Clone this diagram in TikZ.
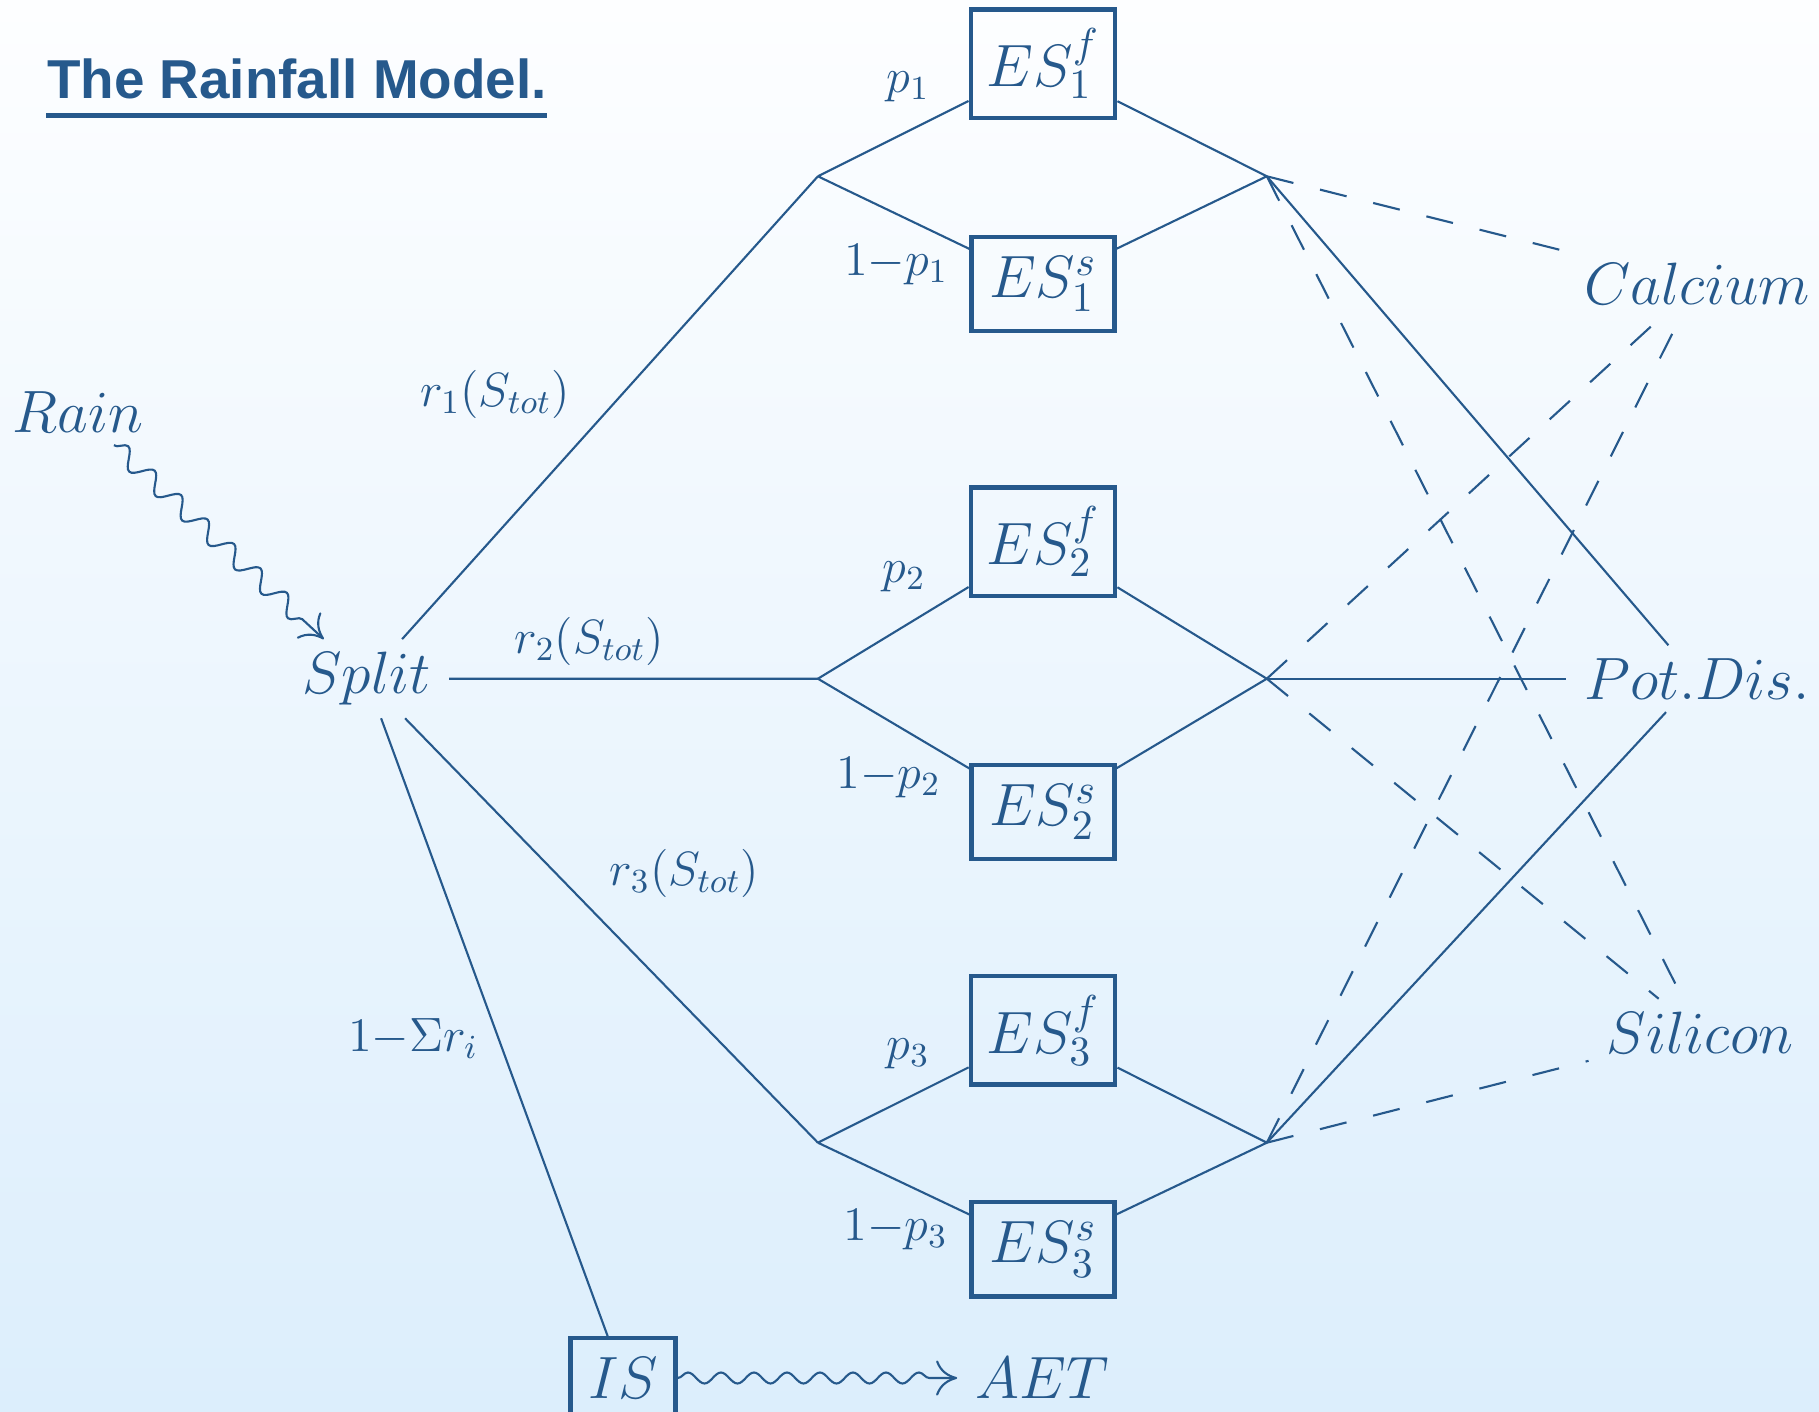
\RequirePackage{fix-cm}
\documentclass[tikz,border=0pt]{standalone}
\usepackage{fontspec}
\newfontfamily\headfont{Liberation Sans}
\usepackage{xcolor}
\definecolor{ink}{HTML}{26598C}
\definecolor{skytop}{HTML}{FDFEFF}
\definecolor{skybot}{HTML}{DCEEFC}
\usepackage{tikz}
\usetikzlibrary{arrows.meta,decorations.pathmorphing,positioning}
\tikzset{
  >={Computer Modern Rightarrow[length=6pt,width=10pt]},
  term/.style={font=\fontsize{17}{20}\selectfont,text=ink,inner xsep=5pt,inner ysep=3.5pt},
  esbox/.style={term,draw=ink,line width=1.2pt,inner xsep=4.5pt,inner ysep=5.5pt,minimum width=1.43cm},
  lbl/.style={font=\fontsize{13.7}{16}\selectfont,text=ink,inner sep=1pt},
  headline/.style={font=\headfont\bfseries\fontsize{15.6}{18}\selectfont,text=ink,
                   anchor=base west,inner sep=0pt},
  uline/.style={draw=ink,line width=1.3pt},
  flow/.style={draw=ink,line width=0.6pt},
  hint/.style={flow,dash pattern=on 7.8pt off 7.8pt},
  squig/.style={flow,->,decorate,
                decoration={snake,amplitude=0.7mm,segment length=3.6mm,post length=2.5mm}},
}

\begin{document}
\begin{tikzpicture}
  \shade[top color=skytop,bottom color=skybot] (0,0) rectangle (18.19,-14.12);
  \useasboundingbox (0,0) rectangle (18.19,-14.12);

  \node[headline] (title) at (0.464,-0.986) {The Rainfall Model.};
  \draw[uline] ([yshift=-1.7mm]title.base west) -- ([yshift=-1.7mm]title.base east);

  % inputs and split
  \node[term] (rain)  at (0.777,-4.118) {$Rain$};
  \node[term] (split) at (3.666,-6.787) {$Split$};
  \node[esbox,minimum width=0pt,inner xsep=5pt] (is) at (6.23,-13.78) {$IS$};
  \node[term] (aet)   at (10.42,-13.78) {$AET$};

  \coordinate (b1) at (8.179,-1.763);
  \coordinate (b2) at (8.179,-6.787);
  \coordinate (b3) at (8.179,-11.427);

  % stores
  \node[esbox] (es1f) at (10.43,-0.638)  {$ES^f_1$};
  \node[esbox] (es1s) at (10.43,-2.842)  {$ES^s_1$};
  \node[esbox] (es2f) at (10.43,-5.418)  {$ES^f_2$};
  \node[esbox] (es2s) at (10.43,-8.121)  {$ES^s_2$};
  \node[esbox] (es3f) at (10.43,-10.302) {$ES^f_3$};
  \node[esbox] (es3s) at (10.43,-12.494) {$ES^s_3$};

  \coordinate (c1) at (12.668,-1.763);
  \coordinate (c2) at (12.668,-6.787);
  \coordinate (c3) at (12.668,-11.427);

  % outputs
  \node[term] (ca)  at (16.97,-2.842)  {$Calcium$};
  \node[term] (pot) at (16.97,-6.787)  {$Pot.Dis.$};
  \node[term] (si)  at (17.0,-10.325)  {$Silicon$};

  % labels
  \node[lbl] (lr1) at (4.95,-3.944)  {$r_1(S_{tot})$};
  \node[lbl] (lr2) at (5.893,-6.415) {$r_2(S_{tot})$};
  \node[lbl] (lr3) at (6.845,-8.735) {$r_3(S_{tot})$};
  \node[lbl] (lri) at (4.13,-10.383) {$1{-}\Sigma r_i$};
  \node[lbl] (lp1) at (9.08,-0.87)   {$p_1$};
  \node[lbl] (lq1) at (8.96,-2.645)  {$1{-}p_1$};
  \node[lbl] (lp2) at (9.04,-5.766)  {$p_2$};
  \node[lbl] (lq2) at (8.886,-7.773) {$1{-}p_2$};
  \node[lbl] (lp3) at (9.08,-10.534) {$p_3$};
  \node[lbl] (lq3) at (8.956,-12.297) {$1{-}p_3$};

  \draw[squig,decoration={amplitude=0.9mm}] (rain) -- (split);
  \draw[squig,decoration={amplitude=0.55mm,segment length=3.3mm}] (is) -- (aet);

  \draw[flow] (split) -- (b1) (split) -- (b2) (split) -- (b3) (split) -- (is);
  \foreach \i in {1,2,3} {
    \draw[flow] (b\i) -- (es\i f) (b\i) -- (es\i s);
    \draw[flow] (es\i f) -- (c\i) (es\i s) -- (c\i);
    \draw[flow] (c\i) -- (pot);
    \draw[hint] (c\i) -- (ca);
    \draw[hint] (c\i) -- (si);
  }
\end{tikzpicture}
\end{document}
